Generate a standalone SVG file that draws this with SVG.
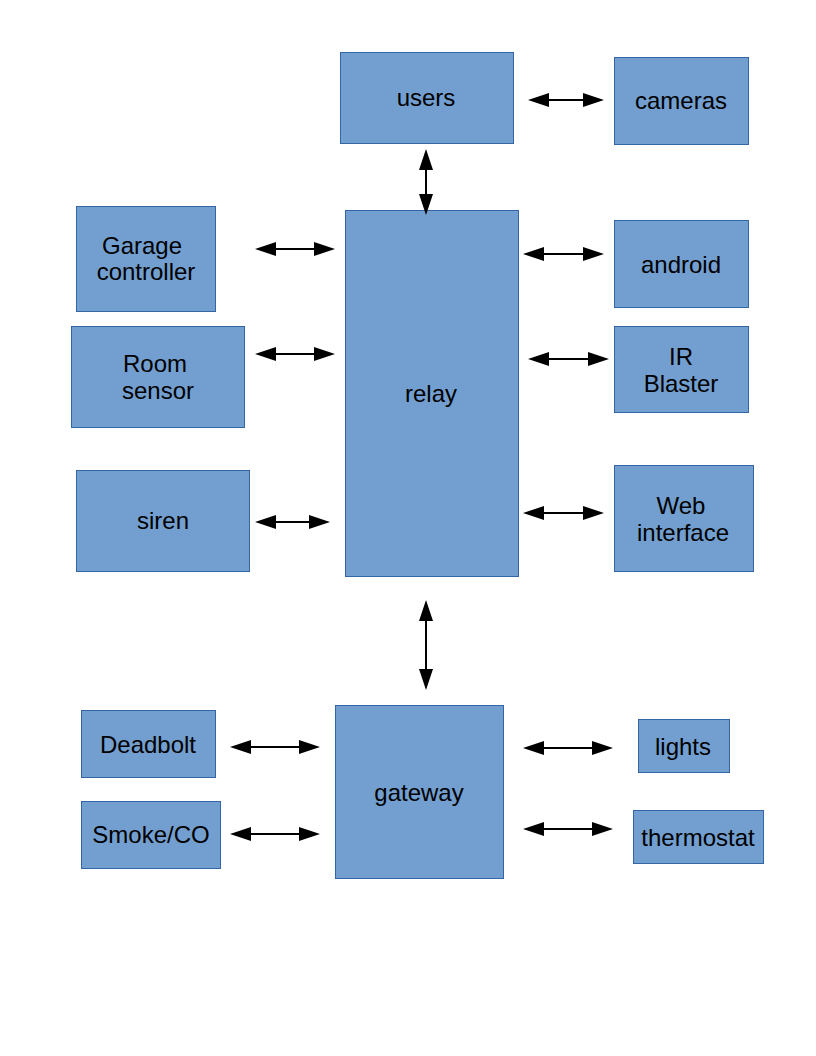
<svg xmlns="http://www.w3.org/2000/svg" width="816" height="1056" viewBox="0 0 816 1056">
<style>
.box{fill:#729fcf;stroke:#3465a4;stroke-width:1}
.lbl{font-family:"Liberation Sans",Arial,sans-serif;font-size:24px;fill:#000;text-anchor:middle}
.conn{stroke:#000;stroke-width:2;fill:none;marker-start:url(#ah);marker-end:url(#ah)}
</style>
<defs>
<marker id="ah" markerUnits="userSpaceOnUse" markerWidth="22" markerHeight="14" viewBox="0 -7 22 14" refX="0" refY="0" orient="auto-start-reverse">
<path d="M0,-7 L21,0 L0,7 z" fill="#000"/>
</marker>
</defs>
<rect width="816" height="1056" fill="#fff"/>
<g id="users"><rect class="box" x="340.5" y="52.5" width="173" height="91"/><text class="lbl" x="426" y="106">users</text></g>
<g id="cameras"><rect class="box" x="614.5" y="57.5" width="134" height="87"/><text class="lbl" x="681" y="109">cameras</text></g>
<g id="relay"><rect class="box" x="345.5" y="210.5" width="173" height="366"/><text class="lbl" x="431" y="402">relay</text></g>
<g id="garage"><rect class="box" x="76.5" y="206.5" width="139" height="105"/><text class="lbl" x="142" y="254">Garage</text><text class="lbl" x="146" y="280">controller</text></g>
<g id="room"><rect class="box" x="71.5" y="326.5" width="173" height="101"/><text class="lbl" x="155" y="372">Room</text><text class="lbl" x="158" y="399">sensor</text></g>
<g id="siren"><rect class="box" x="76.5" y="470.5" width="173" height="101"/><text class="lbl" x="163" y="529">siren</text></g>
<g id="android"><rect class="box" x="614.5" y="220.5" width="134" height="87"/><text class="lbl" x="681" y="273">android</text></g>
<g id="ir"><rect class="box" x="614.5" y="326.5" width="134" height="86"/><text class="lbl" x="681" y="365">IR</text><text class="lbl" x="681" y="392">Blaster</text></g>
<g id="web"><rect class="box" x="614.5" y="465.5" width="139" height="106"/><text class="lbl" x="681" y="514">Web</text><text class="lbl" x="683" y="541">interface</text></g>
<g id="gateway"><rect class="box" x="335.5" y="705.5" width="168" height="173"/><text class="lbl" x="419" y="801">gateway</text></g>
<g id="deadbolt"><rect class="box" x="81.5" y="710.5" width="134" height="67"/><text class="lbl" x="148" y="753">Deadbolt</text></g>
<g id="smoke"><rect class="box" x="81.5" y="801.5" width="139" height="67"/><text class="lbl" x="151" y="843">Smoke/CO</text></g>
<g id="lights"><rect class="box" x="638.5" y="719.5" width="91" height="53"/><text class="lbl" x="683" y="755">lights</text></g>
<g id="thermostat"><rect class="box" x="633.5" y="810.5" width="130" height="53"/><text class="lbl" x="698" y="846">thermostat</text></g>
<g id="connectors">
<line class="conn" x1="549" y1="100" x2="583" y2="100"/>
<line class="conn" x1="426" y1="170" x2="426" y2="194"/>
<line class="conn" x1="276" y1="249" x2="314" y2="249"/>
<line class="conn" x1="276" y1="354" x2="314" y2="354"/>
<line class="conn" x1="276" y1="522" x2="309" y2="522"/>
<line class="conn" x1="544" y1="254" x2="583" y2="254"/>
<line class="conn" x1="549" y1="359" x2="588" y2="359"/>
<line class="conn" x1="544" y1="513" x2="583" y2="513"/>
<line class="conn" x1="426" y1="621" x2="426" y2="669"/>
<line class="conn" x1="251" y1="747" x2="299" y2="747"/>
<line class="conn" x1="251" y1="834" x2="299" y2="834"/>
<line class="conn" x1="544" y1="748" x2="592" y2="748"/>
<line class="conn" x1="544" y1="829" x2="592" y2="829"/>
</g>
</svg>
